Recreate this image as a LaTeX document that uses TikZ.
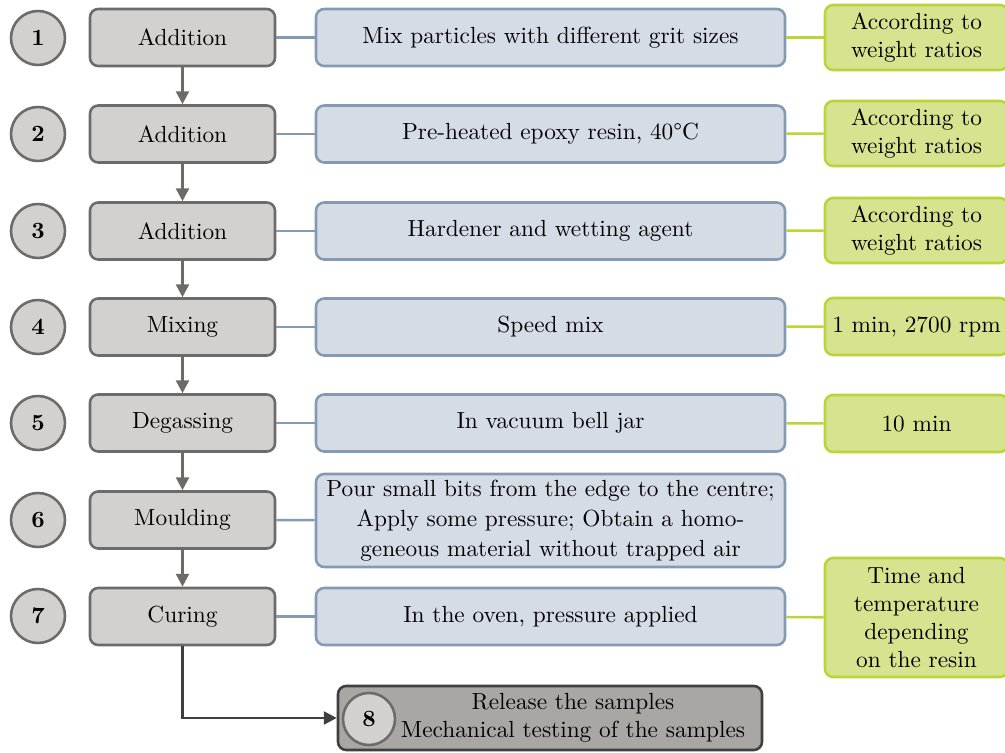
\documentclass[tikz,border=0pt]{standalone}
\usetikzlibrary{arrows.meta}
\newdimen\pxu \pxu=0.429pt
\definecolor{gfill}{HTML}{D3D0D0}
\definecolor{gdraw}{HTML}{6E6A6A}
\definecolor{bfill}{HTML}{D6DCE6}
\definecolor{bdraw}{HTML}{8499B3}
\definecolor{yfill}{HTML}{D8E38F}
\definecolor{ydraw}{HTML}{BCD43A}
\definecolor{dfill}{HTML}{AAA6A4}
\definecolor{ddraw}{HTML}{3F3F3F}
\tikzset{
  every node/.style={font=\fontsize{10}{12}\selectfont, inner sep=0pt, align=center},
  numc/.style={circle, draw=gdraw, fill=gfill, line width=1.1pt, minimum size=54\pxu, font=\fontsize{10}{12}\selectfont\bfseries},
  graybox/.style={draw=gdraw, fill=gfill, line width=1.1pt, rounded corners=3.5pt, minimum width=185\pxu, minimum height=57\pxu},
  bluebox/.style={draw=bdraw, fill=bfill, line width=1.1pt, rounded corners=3.5pt, minimum width=469\pxu, minimum height=57\pxu},
  greenbox/.style={draw=ydraw, fill=yfill, line width=1.1pt, rounded corners=3.5pt, minimum width=183\pxu, minimum height=57\pxu},
  endbox/.style={draw=ddraw, fill=dfill, line width=1.1pt, rounded corners=3.5pt, minimum width=424\pxu, minimum height=64\pxu},
  flow/.style={draw=gdraw, line width=1.1pt, -{Triangle[width=5.5pt,length=5.5pt]}},
  bline/.style={draw=bdraw, line width=1.1pt},
  yline/.style={draw=ydraw, line width=1.1pt},
}
\begin{document}
\begin{tikzpicture}[x=\pxu, y=-\pxu]
\useasboundingbox (0,0) rectangle (1005,753);
% circles
\node[numc] (c1) at (38,38) {1};
\node[numc] (c2) at (38,134) {2};
\node[numc] (c3) at (38,231) {3};
\node[numc] (c4) at (38,327) {4};
\node[numc] (c5) at (38,423) {5};
\node[numc] (c6) at (38,520) {6};
\node[numc] (c7) at (38,616) {7};
% gray boxes
\node[graybox] (g1) at (182.5,37.5) {Addition};
\node[graybox] (g2) at (182.5,134) {Addition};
\node[graybox] (g3) at (182.5,231) {Addition};
\node[graybox] (g4) at (182.5,327) {Mixing};
\node[graybox] (g5) at (182.5,423) {Degassing};
\node[graybox] (g6) at (182.5,520) {Moulding};
\node[graybox] (g7) at (182.5,616.5) {Curing};
% blue boxes
\node[bluebox] (b1) at (550.5,37.5) {Mix particles with different grit sizes};
\node[bluebox] (b2) at (550.5,134) {Pre-heated epoxy resin, 40\textdegree C};
\node[bluebox] (b3) at (550.5,231) {Hardener and wetting agent};
\node[bluebox] (b4) at (550.5,327) {Speed mix};
\node[bluebox] (b5) at (550.5,423) {In vacuum bell jar};
\node[bluebox, minimum height=93\pxu, font=\fontsize{10}{12.9}\selectfont] (b6) at (550.5,520.5) {Pour small bits from the edge to the centre;\\Apply some pressure; Obtain a homo-\\geneous material without trapped air};
\node[bluebox] (b7) at (550.5,616.5) {In the oven, pressure applied};
% green boxes
\node[greenbox, minimum height=65\pxu] (y1) at (916.5,37.5) {According to\\weight ratios};
\node[greenbox, minimum height=65\pxu] (y2) at (916.5,133.5) {According to\\weight ratios};
\node[greenbox, minimum height=65\pxu] (y3) at (916.5,230.5) {According to\\weight ratios};
\node[greenbox] (y4) at (916.5,326.5) {1 min, 2700 rpm};
\node[greenbox] (y5) at (916.5,423.5) {10 min};
\node[greenbox, minimum height=119\pxu] (y7) at (916.5,617.5) {Time and\\temperature\\depending\\on the resin};
% end box
\node[endbox] (e) at (550,718) {};
\node[numc, minimum size=52\pxu] (c8) at (369,719) {8};
\node (et) at (573,718) {Release the samples\\Mechanical testing of the samples};
% flow arrows
\draw[flow] (g1) -- (g2);
\draw[flow] (g2) -- (g3);
\draw[flow] (g3) -- (g4);
\draw[flow] (g4) -- (g5);
\draw[flow] (g5) -- (g6);
\draw[flow] (g6) -- (g7);
\draw[flow, draw=ddraw] (g7.south) |- (e.west);
% connectors
\foreach \i in {1,...,7} {\draw[bline] (g\i) -- (b\i);}
\foreach \i in {1,2,3,4,5,7} {\draw[yline] (b\i) -- (y\i);}
\end{tikzpicture}
\end{document}
